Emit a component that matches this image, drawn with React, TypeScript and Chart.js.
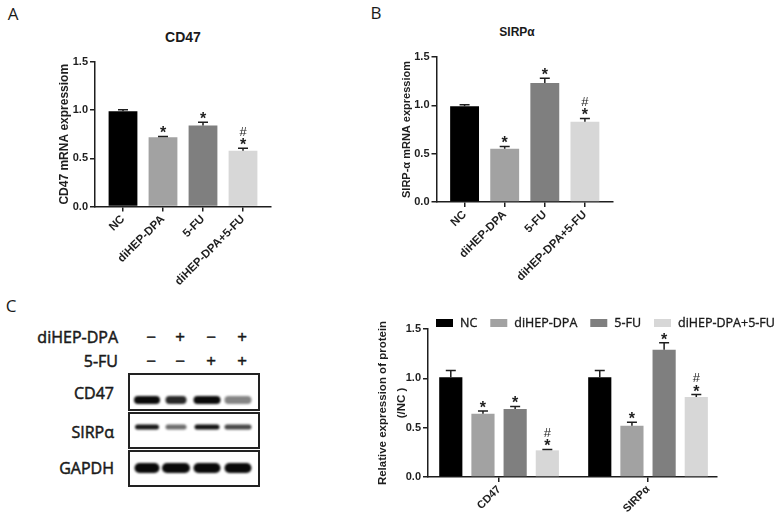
import React, { useEffect, useRef } from 'react';
import { Chart, registerables } from 'chart.js';

Chart.register(...registerables);

// ---------- data ----------
const mrnaGroups = ['NC', 'diHEP-DPA', '5-FU', 'diHEP-DPA+5-FU'];
const cd47Mrna = [0.99, 0.72, 0.84, 0.58];
const cd47MrnaErr = [0.015, 0.006, 0.035, 0.025];
const sirpMrna = [0.99, 0.55, 1.23, 0.83];
const sirpMrnaErr = [0.015, 0.025, 0.05, 0.035];
const mrnaMarks = ['', '*', '*', '#*'];
const yTickValues = [0, 0.5, 1.0, 1.5];

const proteinCategories = ['CD47', 'SIRPα'];
const proteinNC = [1.01, 1.01];
const proteinNCErr = [0.07, 0.07];
const proteinNCMarks = ['', ''];
const proteinDPA = [0.64, 0.52];
const proteinDPAErr = [0.03, 0.035];
const proteinDPAMarks = ['*', '*'];
const protein5FU = [0.69, 1.29];
const protein5FUErr = [0.025, 0.07];
const protein5FUMarks = ['*', '*'];
const proteinCombo = [0.27, 0.81];
const proteinComboErr = [0.008, 0.025];
const proteinComboMarks = ['#*', '#*'];

const blotTreatments = ['diHEP-DPA', '5-FU'];
const blotSigns = [
  ['−', '+', '−', '+'],
  ['−', '−', '+', '+'],
];
const blotProteins = ['CD47', 'SIRPα', 'GAPDH'];
const blotIntensity = [
  [1.0, 0.88, 1.0, 0.5],
  [0.95, 0.6, 0.97, 0.75],
  [1.0, 1.0, 1.0, 1.0],
];
const blotBandWidth = [
  [26, 21, 27, 27],
  [24, 21, 25, 27],
  [25, 28, 27, 27],
];

// ---------- styles ----------
const groupColors = ['#000000', '#a2a2a2', '#7f7f7f', '#d7d7d7'];
const AXIS = '#1e1e1e';
const ARIAL = '"Liberation Sans", Arial, sans-serif';
const YAHEI = '"Open Sans", "Noto Sans", sans-serif';

const errorBarPlugin = {
  id: 'errorBars',
  afterDatasetsDraw(chart: any) {
    const ctx = chart.ctx;
    const y = chart.scales.y;
    chart.data.datasets.forEach((ds: any, di: number) => {
      const meta = chart.getDatasetMeta(di);
      meta.data.forEach((bar: any, i: number) => {
        const v = ds.data[i].y;
        const e = ds.errors[i];
        const base = y.getPixelForValue(v);
        const top = y.getPixelForValue(v + e);
        ctx.save();
        ctx.strokeStyle = AXIS;
        ctx.lineWidth = 1.5;
        ctx.beginPath();
        ctx.moveTo(bar.x, base);
        ctx.lineTo(bar.x, top);
        ctx.moveTo(bar.x - 5, top);
        ctx.lineTo(bar.x + 5, top);
        ctx.stroke();
        const m: string = ds.marks[i];
        ctx.fillStyle = AXIS;
        ctx.textAlign = 'center';
        ctx.textBaseline = 'middle';
        if (m.includes('*')) {
          ctx.font = `bold 16px ${ARIAL}`;
          ctx.fillText('*', bar.x, top - 2.5);
        }
        if (m.includes('#')) {
          ctx.font = `13px ${ARIAL}`;
          ctx.fillText('#', bar.x, top - 16);
        }
        ctx.restore();
      });
    });
  },
};

const customLegendPlugin = {
  id: 'customLegend',
  afterDraw(chart: any, _args: any, opts: any) {
    if (!opts || !opts.display) return;
    const ctx = chart.ctx;
    ctx.save();
    ctx.font = `12.5px ${YAHEI}`;
    ctx.textBaseline = 'middle';
    ctx.textAlign = 'left';
    ctx.lineWidth = 0.35;
    let x = opts.x;
    const y = opts.y;
    chart.data.datasets.forEach((ds: any) => {
      ctx.fillStyle = ds.backgroundColor;
      ctx.fillRect(x, y - 4, 17, 8);
      x += 17 + 7;
      ctx.fillStyle = '#1a1a1a';
      ctx.strokeStyle = '#1a1a1a';
      ctx.fillText(ds.label, x, y);
      ctx.strokeText(ds.label, x, y);
      x += ctx.measureText(ds.label).width + 13;
    });
    ctx.restore();
  },
};

function axisCommon() {
  return {
    offset: false,
    grid: {
      display: true,
      drawOnChartArea: false,
      drawTicks: true,
      offset: false,
      tickLength: 5,
      color: AXIS,
      lineWidth: 1.5,
    },
    border: { display: true, color: AXIS, width: 1.5 },
  };
}

function yAxis(title: any, titleFont: any, width: number) {
  return {
    type: 'linear',
    min: 0,
    max: 1.5,
    afterBuildTicks: (s: any) => {
      s.ticks = yTickValues.map((v) => ({ value: v }));
    },
    afterFit: (s: any) => {
      s.width = width;
    },
    ticks: {
      callback: (v: any) => Number(v).toFixed(1),
      font: { family: ARIAL, size: 11, weight: 'bold' },
      color: AXIS,
      padding: 2,
    },
    title: {
      display: true,
      text: title,
      font: titleFont,
      color: AXIS,
      padding: 0,
    },
    ...axisCommon(),
  };
}

function xAxis(labels: string[], min: number, max: number, height: number, fontSize: number) {
  return {
    type: 'linear',
    min,
    max,
    afterBuildTicks: (s: any) => {
      s.ticks = labels.map((_, i) => ({ value: i }));
    },
    afterFit: (s: any) => {
      s.height = height;
      s.paddingLeft = 0;
      s.paddingRight = 0;
    },
    ticks: {
      callback: (v: any) => labels[v] ?? '',
      autoSkip: false,
      maxRotation: 45,
      minRotation: 45,
      font: { family: ARIAL, size: fontSize, weight: 'bold' },
      color: AXIS,
      padding: 1,
    },
    ...axisCommon(),
  };
}

function mrnaConfig(values: number[], errors: number[], yTitle: string, yTitleSize: number, pad: any) {
  return {
    type: 'bar',
    data: {
      datasets: [
        {
          label: yTitle,
          data: values.map((v, i) => ({ x: i, y: v })),
          backgroundColor: groupColors,
          borderWidth: 0,
          errors,
          marks: mrnaMarks,
          barPercentage: 0.72,
          categoryPercentage: 1,
        },
      ],
    },
    options: {
      responsive: false,
      animation: false,
      events: [],
      layout: { padding: { left: pad.left, right: pad.right, top: pad.top, bottom: 0 } },
      plugins: { legend: { display: false }, tooltip: { enabled: false } },
      scales: {
        x: xAxis(mrnaGroups, -0.7, 3.7, pad.xh, 11.5),
        y: yAxis(yTitle, { family: ARIAL, size: yTitleSize, weight: 'bold', lineHeight: 1.2 }, pad.yw),
      },
    },
    plugins: [errorBarPlugin],
  };
}

function proteinConfig() {
  const series = [
    { label: 'NC', v: proteinNC, e: proteinNCErr, m: proteinNCMarks },
    { label: 'diHEP-DPA', v: proteinDPA, e: proteinDPAErr, m: proteinDPAMarks },
    { label: '5-FU', v: protein5FU, e: protein5FUErr, m: protein5FUMarks },
    { label: 'diHEP-DPA+5-FU', v: proteinCombo, e: proteinComboErr, m: proteinComboMarks },
  ];
  return {
    type: 'bar',
    data: {
      datasets: series.map((s, k) => ({
        label: s.label,
        data: s.v.map((v, i) => ({ x: i, y: v })),
        backgroundColor: groupColors[k],
        borderWidth: 0,
        errors: s.e,
        marks: s.m,
        barPercentage: 0.72,
        categoryPercentage: 0.864,
      })),
    },
    options: {
      responsive: false,
      animation: false,
      events: [],
      layout: { padding: { left: 13.5, right: 62, top: 29, bottom: 0 } },
      plugins: {
        legend: { display: false },
        tooltip: { enabled: false },
        customLegend: { display: true, x: 76, y: 23 },
      },
      scales: {
        x: xAxis(proteinCategories, -0.477, 1.463, 40, 11),
        y: yAxis(
          ['Relative expression of protein', '(/NC )'],
          { family: ARIAL, size: 11.5, weight: 'bold', lineHeight: '19px' },
          54.5
        ),
      },
    },
    plugins: [errorBarPlugin, customLegendPlugin],
  };
}

function ChartBox(props: { left: number; top: number; width: number; height: number; make: () => any }) {
  const ref = useRef<HTMLCanvasElement>(null);
  useEffect(() => {
    const chart = new Chart(ref.current as HTMLCanvasElement, props.make());
    return () => chart.destroy();
  }, []);
  return (
    <canvas
      ref={ref}
      width={props.width}
      height={props.height}
      style={{ position: 'absolute', left: props.left, top: props.top, width: props.width, height: props.height }}
    />
  );
}

const laneX = [147, 176, 207, 238];
const rowBoxes = [
  [374, 410],
  [413, 448],
  [451, 486],
];
const bandY = [400, 427, 468];
const bandH = [8, 5, 10];

function BlotCanvas() {
  const ref = useRef<HTMLCanvasElement>(null);
  const left = 120;
  const top = 366;
  useEffect(() => {
    const c = ref.current as HTMLCanvasElement;
    const ctx = c.getContext('2d') as CanvasRenderingContext2D;
    ctx.clearRect(0, 0, c.width, c.height);
    blotProteins.forEach((_, r) => {
      blotIntensity[r].forEach((a, l) => {
        const w = blotBandWidth[r][l];
        const h = bandH[r];
        const cx = laneX[l] - left;
        const cy = bandY[r] - top;
        ctx.save();
        ctx.filter = 'blur(1.1px)';
        ctx.fillStyle = `rgba(10,10,10,${a})`;
        ctx.beginPath();
        (ctx as any).roundRect(cx - w / 2, cy - h / 2, w, h, h / 2);
        ctx.fill();
        ctx.restore();
      });
      const [y0, y1] = rowBoxes[r];
      ctx.save();
      ctx.strokeStyle = '#222';
      ctx.lineWidth = 2;
      ctx.strokeRect(129 - left, y0 - top, 130, y1 - y0);
      ctx.restore();
    });
  }, []);
  return (
    <canvas
      ref={ref}
      width={150}
      height={126}
      style={{ position: 'absolute', left, top, width: 150, height: 126 }}
    />
  );
}

function Txt(props: {
  x: number;
  y: number;
  text: string;
  size: number;
  align?: 'left' | 'right' | 'center';
  bold?: boolean;
  family?: string;
  stroke?: boolean;
}) {
  const w = 240;
  const align = props.align || 'center';
  const left = align === 'center' ? props.x - w / 2 : align === 'right' ? props.x - w : props.x;
  return (
    <div
      style={{
        position: 'absolute',
        left,
        top: props.y - 12,
        width: w,
        height: 24,
        lineHeight: '24px',
        textAlign: align,
        fontSize: props.size,
        fontWeight: props.bold ? 'bold' : 'normal',
        fontFamily: props.family || YAHEI,
        color: '#1a1a1a',
        whiteSpace: 'nowrap',
        WebkitTextStroke: props.stroke ? '0.5px #1a1a1a' : undefined,
      }}
    >
      {props.text}
    </div>
  );
}

export default function App() {
  const signRowY = [337, 361];
  const proteinLabelY = [393, 432, 468];
  return (
    <div
      style={{
        position: 'absolute',
        left: 0,
        top: 0,
        width: 779,
        height: 517,
        background: '#ffffff',
        overflow: 'hidden',
      }}
    >
      <Txt x={13} y={13.5} text="A" size={17} />
      <Txt x={376} y={13} text="B" size={17} />
      <Txt x={11} y={306} text="C" size={17} />

      <Txt x={183} y={37} text="CD47" size={14} bold family={ARIAL} />
      <Txt x={517} y={32} text="SIRPα" size={12} bold family={ARIAL} />

      <ChartBox
        left={0}
        top={0}
        width={290}
        height={300}
        make={() =>
          mrnaConfig(cd47Mrna, cd47MrnaErr, 'CD47 mRNA expressiom', 12, {
            left: 57.8,
            right: 19,
            top: 62,
            xh: 93.5,
            yw: 37.2,
          })
        }
      />
      <ChartBox
        left={370}
        top={0}
        width={260}
        height={300}
        make={() =>
          mrnaConfig(sirpMrna, sirpMrnaErr, 'SIRP-α mRNA expressiom', 11, {
            left: 30.4,
            right: 17,
            top: 57,
            xh: 98,
            yw: 36.1,
          })
        }
      />

      {blotTreatments.map((t, r) => (
        <React.Fragment key={t}>
          <Txt x={118} y={signRowY[r]} text={t} size={16} align="right" stroke />
          {blotSigns[r].map((s, l) => (
            <Txt key={l} x={laneX[l] + 4} y={signRowY[r]} text={s} size={17} stroke />
          ))}
        </React.Fragment>
      ))}
      {blotProteins.map((p, r) => (
        <Txt key={p} x={114} y={proteinLabelY[r]} text={p} size={16} align="right" stroke />
      ))}
      <BlotCanvas />

      <ChartBox left={360} top={300} width={419} height={217} make={proteinConfig} />
    </div>
  );
}
